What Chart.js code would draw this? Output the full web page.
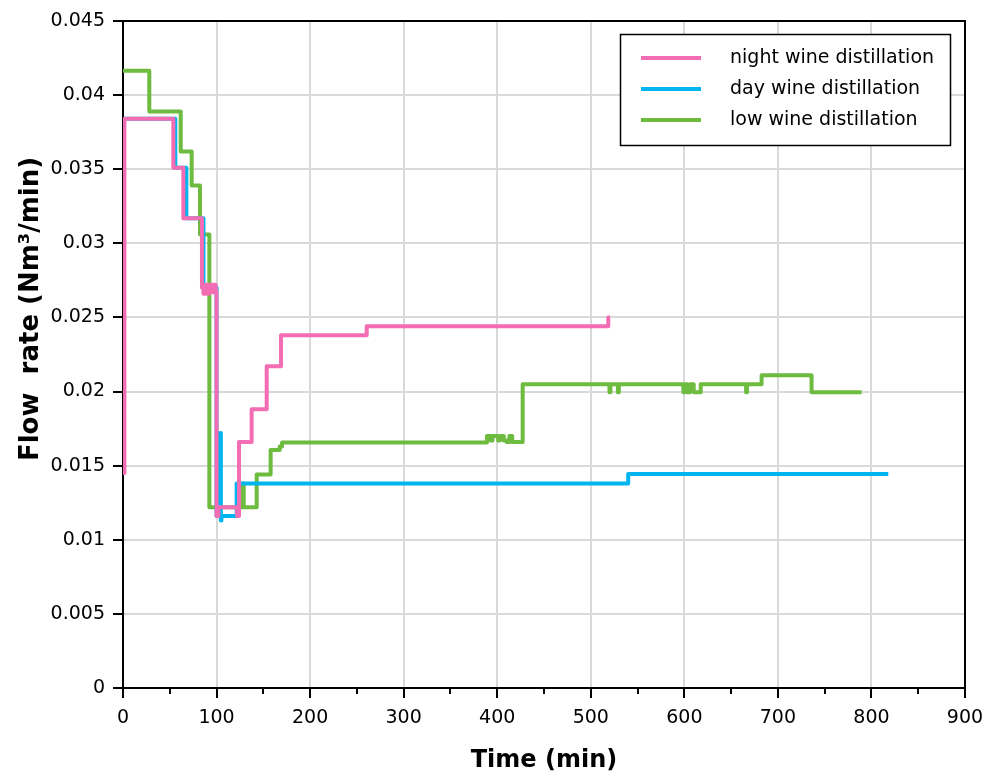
<!DOCTYPE html>
<html>
<head>
<meta charset="utf-8">
<script src="https://cdn.jsdelivr.net/npm/chart.js@4.4.1/dist/chart.umd.min.js"></script>
<style>
  body { margin: 0; background: #fff; }
  #wrap { width: 993px; height: 771px; }
</style>
</head>
<body>
<div id="wrap"><canvas id="flowChart"></canvas></div>
<script>
// each flow value holds from its time until the next time (step-before)
const nightTime = [0, 1.5, 53.8, 64.5, 84.4, 86, 88, 90, 92, 95, 97, 99, 100, 102, 122, 124, 137.5, 153.6, 168.9, 260.5, 518.7, 520.5];
const nightFlow = [0.0145, 0.0384, 0.0351, 0.0317, 0.0270, 0.0266, 0.0272, 0.0266, 0.0272, 0.0267, 0.0272, 0.0268, 0.0116, 0.0122, 0.0116, 0.0166, 0.0188, 0.0217, 0.0238, 0.0244, 0.0250, 0.0250];

const dayTime = [0.5, 55.9, 67.7, 86, 100, 104, 104.6, 105.2, 121.5, 540, 818];
const dayFlow = [0.0384, 0.0351, 0.0317, 0.0270, 0.0116, 0.0172, 0.0113, 0.0116, 0.0138, 0.01444, 0.01444];

const lowTime = [0, 28.1, 61.7, 73.4, 82.3, 92.3, 128.3, 129, 142.9, 157.8, 167.5, 170,
  389, 393, 395, 401, 403, 407, 410, 413, 416, 427.2,
  520, 521, 529, 530, 599, 600.5, 603, 606, 610, 617.5, 666, 667, 682.6, 736, 789.5];
const lowFlow = [0.04165, 0.0389, 0.0362, 0.0339, 0.0306, 0.0122, 0.0138, 0.0122, 0.0144, 0.01606, 0.0163, 0.01657,
  0.0170, 0.0167, 0.0170, 0.0167, 0.0170, 0.0167, 0.0166, 0.0170, 0.0166, 0.0205,
  0.01995, 0.0205, 0.01995, 0.0205, 0.01995, 0.0205, 0.01995, 0.0205, 0.01995, 0.0205, 0.01995, 0.0205, 0.0211, 0.01995, 0.01995];

const xTicks = [0, 100, 200, 300, 400, 500, 600, 700, 800, 900];
const yTickLabels = ['0', '0.005', '0.01', '0.015', '0.02', '0.025', '0.03', '0.035', '0.04', '0.045'];

const toPoints = (t, v) => t.map((x, i) => ({ x: x, y: v[i] }));

const FONT = "'DejaVu Sans', Verdana, sans-serif";

// frame on top/right, minor x ticks, y title and the boxed legend
const extras = {
  id: 'extras',
  afterDraw(chart) {
    const { ctx, chartArea: a } = chart;
    const xs = chart.scales.x;
    ctx.save();
    ctx.strokeStyle = '#000';
    ctx.lineWidth = 2;
    ctx.beginPath();
    ctx.moveTo(a.left, a.top);
    ctx.lineTo(a.right, a.top);
    ctx.lineTo(a.right, a.bottom);
    ctx.stroke();

    for (let v = 50; v < 900; v += 100) {
      const px = Math.round(xs.getPixelForValue(v));
      ctx.beginPath();
      ctx.moveTo(px, a.bottom);
      ctx.lineTo(px, a.bottom + 6);
      ctx.stroke();
    }

    // y axis title
    ctx.save();
    ctx.translate(31, 309);
    ctx.rotate(-Math.PI / 2);
    ctx.font = 'bold 26px ' + FONT;
    ctx.textAlign = 'center';
    ctx.textBaseline = 'middle';
    ctx.fillStyle = '#000';
    ctx.fillText('Flow  rate (Nm³/min)', 0, 0);
    ctx.restore();

    // legend
    const bx = 620.5, by = 34.5, bw = 330, bh = 111;
    ctx.fillStyle = '#fff';
    ctx.fillRect(bx, by, bw, bh);
    ctx.lineWidth = 1.5;
    ctx.strokeRect(bx, by, bw, bh);
    ctx.font = '19px ' + FONT;
    ctx.textBaseline = 'middle';
    chart.data.datasets.forEach((ds, i) => {
      const y = 58 + i * 31;
      ctx.strokeStyle = ds.borderColor;
      ctx.lineWidth = 4;
      ctx.beginPath();
      ctx.moveTo(641, y);
      ctx.lineTo(701, y);
      ctx.stroke();
      ctx.fillStyle = '#000';
      ctx.fillText(ds.label, 730, y);
    });
    ctx.restore();
  }
};

new Chart(document.getElementById('flowChart'), {
  type: 'line',
  data: {
    datasets: [
      {
        label: 'night wine distillation',
        data: toPoints(nightTime, nightFlow),
        borderColor: '#f36db4',
        borderWidth: 4,
      },
      {
        label: 'day wine distillation',
        data: toPoints(dayTime, dayFlow),
        borderColor: '#00b5f0',
        borderWidth: 4,
      },
      {
        label: 'low wine distillation',
        data: toPoints(lowTime, lowFlow),
        borderColor: '#6dbb3f',
        borderWidth: 4,
      },
    ],
  },
  options: {
    responsive: true,
    maintainAspectRatio: false,
    animation: false,
    layout: { padding: { top: 21, right: 28, left: 0, bottom: 0 } },
    elements: {
      line: { stepped: true, fill: false, borderJoinStyle: 'round' },
      point: { radius: 0 },
    },
    plugins: {
      legend: { display: false },
      tooltip: { enabled: false },
    },
    scales: {
      x: {
        type: 'linear',
        min: 0,
        max: 900,
        afterBuildTicks: (s) => { s.ticks = xTicks.map(v => ({ value: v })); },
        afterFit: (s) => { s.height = 83; },
        ticks: { color: '#000', font: { family: FONT, size: 19 }, padding: 9, maxRotation: 0 },
        grid: { color: '#d9d9d9', lineWidth: 2, tickColor: '#000', tickLength: 10 },
        border: { color: '#000', width: 2 },
        title: {
          display: true,
          text: 'Time (min)',
          color: '#000',
          font: { family: FONT, size: 24, weight: 'bold' },
          padding: { top: 0, bottom: -4 },
        },
      },
      y: {
        min: 0,
        max: 0.045,
        afterBuildTicks: (s) => { s.ticks = yTickLabels.map(v => ({ value: parseFloat(v) })); },
        afterFit: (s) => { s.width = 123; },
        ticks: {
          color: '#000',
          font: { family: FONT, size: 19 },
          padding: 8,
          callback: (v, i) => yTickLabels[i],
        },
        grid: { color: '#d9d9d9', lineWidth: 2, tickColor: '#000', tickLength: 10 },
        border: { color: '#000', width: 2 },
      },
    },
  },
  plugins: [extras],
});
</script>
</body>
</html>
